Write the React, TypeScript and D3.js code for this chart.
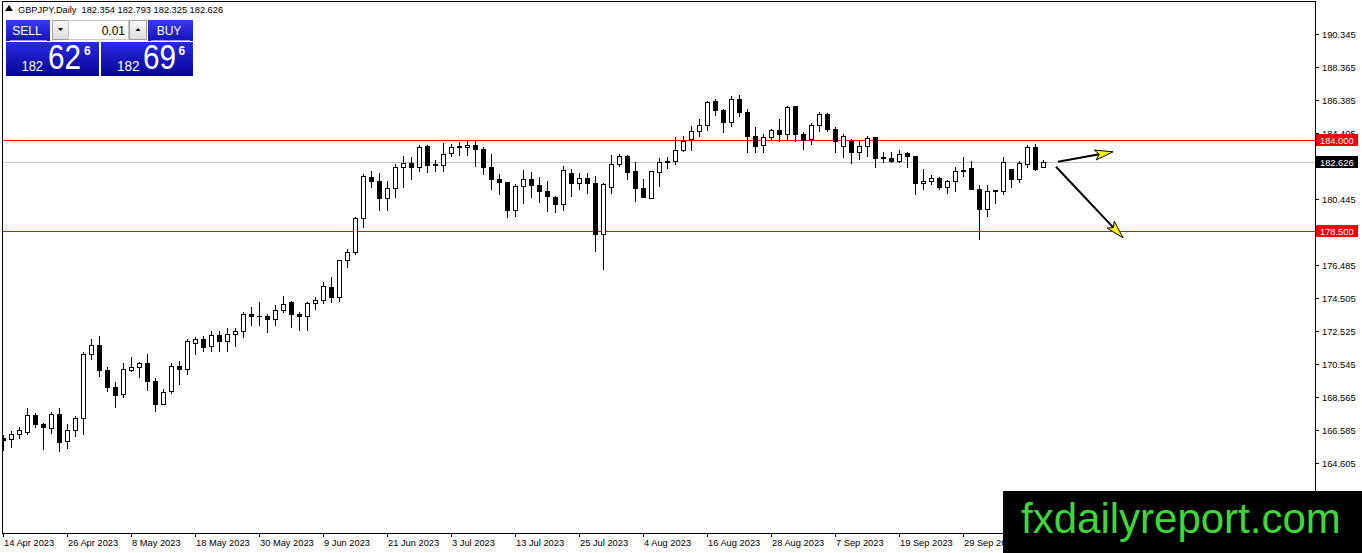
import React from 'react';
import * as d3 from 'd3';

// ---------- DATA ----------
const opens = [
  166.10, 166.03, 166.33, 166.48, 167.46, 166.93, 166.69, 167.53, 165.93, 166.57,
  167.29, 171.13, 171.69, 170.17, 169.17, 168.73, 170.19, 170.33, 170.57, 169.53,
  168.13, 168.93, 170.43, 170.23, 171.77, 172.03, 171.63, 172.27, 171.91, 172.31,
  172.51, 173.55, 173.43, 173.43, 173.23, 173.79, 174.27, 173.53, 173.43, 174.19,
  174.37, 175.17, 174.53, 176.79, 177.23, 179.29, 181.77, 181.53, 180.49, 181.09,
  182.37, 182.59, 182.37, 183.61, 182.53, 182.47, 183.17, 183.57, 183.57, 183.69,
  183.43, 182.37, 181.63, 181.43, 179.77, 181.23, 181.63, 181.29, 180.93, 180.57,
  180.13, 181.97, 181.39, 181.69, 181.39, 178.33, 181.17, 182.53, 183.03, 182.13,
  181.09, 180.49, 182.03, 182.63, 182.69, 183.37, 184.03, 184.53, 184.87, 186.33,
  185.79, 185.03, 186.43, 185.67, 184.23, 183.67, 184.13, 184.59, 184.33, 185.99,
  184.33, 184.03, 184.87, 185.53, 184.63, 183.63, 183.89, 183.23, 183.63, 184.13,
  182.97, 182.89, 182.69, 183.17, 183.03, 181.37, 181.49, 181.69, 181.13, 181.49,
  182.11, 182.29, 181.03, 179.83, 180.89, 180.93, 182.23, 181.63, 182.53, 183.53,
  182.354,
];
const highs = [
  166.30, 166.50, 166.76, 167.89, 167.60, 166.99, 167.68, 167.89, 166.93, 167.43,
  171.23, 172.03, 172.23, 170.33, 169.47, 170.57, 170.97, 170.63, 171.13, 169.69,
  169.03, 170.57, 170.73, 172.03, 172.17, 172.23, 172.53, 172.53, 172.67, 172.67,
  173.67, 173.93, 174.23, 173.53, 174.07, 174.63, 174.33, 173.67, 174.27, 174.53,
  175.47, 175.73, 176.79, 177.43, 179.35, 181.93, 182.09, 182.01, 181.53, 182.53,
  183.03, 182.97, 183.69, 183.65, 182.77, 183.77, 183.73, 183.83, 183.89, 183.89,
  183.53, 183.13, 181.93, 181.47, 181.33, 182.17, 182.03, 181.73, 181.53, 180.63,
  182.43, 182.23, 181.97, 181.97, 181.83, 181.37, 183.09, 183.13, 183.09, 182.63,
  181.63, 182.13, 182.89, 182.93, 184.17, 184.23, 184.83, 185.23, 186.33, 186.43,
  185.83, 186.59, 186.67, 185.83, 184.73, 184.33, 184.63, 185.23, 185.99, 186.03,
  184.43, 184.99, 185.67, 185.57, 184.73, 184.33, 184.03, 183.89, 184.23, 184.13,
  183.23, 183.23, 183.37, 183.23, 183.03, 182.23, 181.89, 181.73, 181.57, 182.37,
  182.97, 182.73, 181.29, 181.29, 180.97, 182.93, 182.23, 182.73, 183.69, 183.73,
  182.793,
];
const lows = [
  165.40, 165.56, 166.09, 166.36, 166.73, 165.42, 166.42, 165.30, 165.52, 166.22,
  166.36, 170.83, 169.83, 168.93, 167.93, 168.57, 170.09, 169.73, 168.97, 167.73,
  168.13, 168.77, 169.33, 169.93, 171.13, 171.33, 171.33, 171.33, 171.33, 171.63,
  172.13, 172.87, 172.87, 172.43, 172.87, 173.63, 172.73, 172.59, 172.59, 173.83,
  174.19, 174.23, 174.33, 176.33, 177.15, 178.73, 181.13, 179.79, 179.79, 180.53,
  181.13, 181.63, 182.09, 182.03, 182.09, 182.09, 183.03, 183.09, 183.09, 182.43,
  181.93, 181.03, 180.73, 179.37, 179.43, 180.17, 180.53, 180.23, 179.73, 179.63,
  179.77, 180.63, 181.03, 180.77, 177.29, 176.23, 180.77, 182.43, 181.63, 180.33,
  180.53, 180.49, 181.23, 182.29, 182.53, 183.29, 183.39, 184.23, 184.59, 185.47,
  184.43, 184.79, 185.43, 183.23, 183.23, 183.23, 184.03, 183.93, 184.03, 183.93,
  183.43, 183.73, 184.53, 184.53, 183.23, 182.93, 182.57, 182.83, 183.03, 182.37,
  182.63, 182.63, 182.63, 182.33, 180.73, 181.03, 181.33, 181.03, 180.77, 180.93,
  181.83, 181.03, 178.03, 179.43, 180.17, 180.73, 181.17, 181.43, 182.37, 182.17,
  182.325,
];
const closes = [
  166.00, 166.33, 166.57, 167.46, 166.96, 166.73, 167.53, 165.88, 166.57, 167.29,
  171.13, 171.69, 170.17, 169.13, 168.69, 170.23, 170.37, 170.57, 169.49, 168.13,
  168.87, 170.43, 170.23, 171.89, 172.03, 171.53, 172.27, 171.91, 172.33, 172.51,
  173.53, 173.39, 173.41, 173.23, 173.79, 174.13, 173.51, 173.39, 174.19, 174.39,
  175.23, 174.53, 176.79, 177.27, 179.29, 181.83, 181.49, 180.49, 181.09, 182.37,
  182.59, 182.37, 183.57, 182.45, 182.47, 183.13, 183.57, 183.60, 183.69, 183.43,
  182.37, 181.63, 181.43, 179.77, 181.23, 181.63, 181.27, 180.89, 180.61, 180.13,
  182.17, 181.37, 181.69, 181.37, 178.33, 181.33, 182.53, 183.03, 182.03, 181.09,
  180.57, 182.09, 182.67, 182.73, 183.37, 183.93, 184.53, 184.87, 186.27, 185.79,
  185.03, 186.43, 185.63, 184.23, 183.63, 184.13, 184.57, 184.33, 185.93, 184.33,
  183.99, 184.87, 185.53, 184.63, 183.89, 184.23, 183.23, 183.63, 184.09, 182.89,
  182.89, 182.69, 183.13, 183.01, 181.37, 181.53, 181.69, 181.13, 181.53, 182.13,
  182.15, 181.03, 179.83, 180.89, 180.97, 182.63, 181.63, 182.57, 183.53, 182.23,
  182.626,
];
const dateLabels = [
  '14 Apr 2023', '26 Apr 2023', '8 May 2023', '18 May 2023', '30 May 2023', '9 Jun 2023',
  '21 Jun 2023', '3 Jul 2023', '13 Jul 2023', '25 Jul 2023', '4 Aug 2023', '16 Aug 2023',
  '28 Aug 2023', '7 Sep 2023', '19 Sep 2023', '29 Sep 2023',
];
const barsPerDateLabel = 8;
const priceTicks = [
  164.605, 166.585, 168.565, 170.545, 172.525, 174.505, 176.485,
  180.445, 184.405, 186.385, 188.365, 190.345,
];
const priceDomain = [160.345, 192.325];
const levelLines = [184.0, 178.5];
const bidPrice = 182.626;
const askPrice = 182.696;
// arrows: [index, price]
const arrowStarts = [[131.875, 182.665], [131.625, 182.365]];
const arrowEnds = [[138.75, 183.265], [140.0, 178.105]];

// ---------- LAYOUT ----------
const W = 1362;
const H = 553;
const PL = 2;
const PR = 1315;
const PT = 1;
const PB = 533;
const FONT = 'Liberation Sans, Arial, sans-serif';

export default function App() {
  const n = closes.length;
  const x = d3.scaleLinear().domain([0, n - 1]).range([3, 3 + 8 * (n - 1)]);
  const y = d3.scaleLinear().domain(priceDomain).range([PB + 0.8, 0.8]);
  const fmt = d3.format('.3f');
  const cx = (i: number) => Math.round(x(i));
  const cy = (p: number) => Math.round(y(p));

  const candles = d3.range(n).map((i) => {
    const o = opens[i], c = closes[i], h = highs[i], l = lows[i];
    const X = cx(i);
    const top = cy(Math.max(o, c));
    const bot = cy(Math.min(o, c));
    const bull = c >= o;
    return (
      <g key={i}>
        <line x1={X + 0.5} x2={X + 0.5} y1={cy(h)} y2={cy(l) + 1} stroke="#000" strokeWidth={1} />
        {bot - top < 1 ? (
          <line x1={X - 2} x2={X + 3} y1={top + 0.5} y2={top + 0.5} stroke="#000" strokeWidth={1} />
        ) : (
          <rect x={X - 1.5} y={top + 0.5} width={4} height={bot - top} fill={bull ? '#fff' : '#000'} stroke="#000" strokeWidth={1} />
        )}
      </g>
    );
  });

  const arrows = arrowStarts.map((s, k) => {
    const e = arrowEnds[k];
    const sx = x(s[0]), sy = y(s[1]), ex = x(e[0]), ey = y(e[1]);
    const dx = ex - sx, dy = ey - sy;
    const len = Math.hypot(dx, dy);
    const ux = dx / len, uy = dy / len;
    const L = 18, w = 5;
    const bx = ex - L * ux, by = ey - L * uy;
    const nx = -uy, ny = ux;
    const pts = [
      [ex, ey],
      [bx + w * nx, by + w * ny],
      [bx + 4 * ux, by + 4 * uy],
      [bx - w * nx, by - w * ny],
    ];
    return (
      <g key={k}>
        <line x1={sx} y1={sy} x2={bx + 4 * ux} y2={by + 4 * uy} stroke="#000" strokeWidth={2} />
        <polygon points={pts.map((p) => p.join(',')).join(' ')} fill="#ffff00" stroke="#000" strokeWidth={1} strokeLinejoin="round" />
      </g>
    );
  });

  const last = n - 1;
  const headerText = `GBPJPY,Daily  ${fmt(opens[last])} ${fmt(highs[last])} ${fmt(lows[last])} ${fmt(closes[last])}`;

  const splitPrice = (p: number) => {
    const s = fmt(p);
    const [a, b] = s.split('.');
    return [a, b.slice(0, 2), b.slice(2)];
  };
  const bidParts = splitPrice(bidPrice);
  const askParts = splitPrice(askPrice);

  const axisBox = (p: number, fill: string, key: string) => {
    const Y = cy(p);
    return (
      <g key={key}>
        <rect x={1316} y={Y - 6} width={42} height={12} fill={fill} />
        <text x={1320} y={Y + 3.5} fontSize={9.3} fill="#fff" fontFamily={FONT}>{fmt(p)}</text>
      </g>
    );
  };

  return (
    <svg width={W} height={H} style={{ position: 'absolute', left: 0, top: 0, display: 'block', background: '#fff' }}>
      <defs>
        <clipPath id="plot">
          <rect x={PL + 1} y={PT + 1} width={PR - PL - 1} height={PB - PT - 1} />
        </clipPath>
        <linearGradient id="btn" x1="0" y1="0" x2="0" y2="1">
          <stop offset="0" stopColor="#3a3af5" />
          <stop offset="1" stopColor="#1212b8" />
        </linearGradient>
        <linearGradient id="big" x1="0" y1="0" x2="0" y2="1">
          <stop offset="0" stopColor="#2a2ae6" />
          <stop offset="1" stopColor="#050590" />
        </linearGradient>
        <linearGradient id="gbtn" x1="0" y1="0" x2="0" y2="1">
          <stop offset="0" stopColor="#fafafa" />
          <stop offset="1" stopColor="#dcdcdc" />
        </linearGradient>
      </defs>
      <rect x={0} y={0} width={W} height={H} fill="#fff" />

      <g clipPath="url(#plot)">
        <line x1={PL} x2={PR} y1={cy(bidPrice) + 0.5} y2={cy(bidPrice) + 0.5} stroke="#c0c0c0" strokeWidth={1} />
        {levelLines.map((p, i) => (
          <line key={i} x1={PL} x2={PR} y1={cy(p) + 0.5} y2={cy(p) + 0.5} stroke="#ff0000" strokeWidth={1} />
        ))}
        {candles}
        {arrows}
      </g>

      <rect x={PL + 0.5} y={PT + 0.5} width={PR - PL} height={PB - PT} fill="none" stroke="#000" strokeWidth={1} />

      {/* right axis */}
      {priceTicks.map((p, i) => {
        const Y = cy(p);
        return (
          <g key={i}>
            <line x1={PR} x2={PR + 4} y1={Y + 0.5} y2={Y + 0.5} stroke="#000" />
            <text x={1322} y={Y + 4} fontSize={9.3} fill="#000" fontFamily={FONT}>{fmt(p)}</text>
          </g>
        );
      })}
      {axisBox(levelLines[0], '#f00000', 'l0')}
      {axisBox(bidPrice, '#000', 'bid')}
      {axisBox(levelLines[1], '#f00000', 'l1')}

      {/* bottom axis */}
      {dateLabels.map((d, k) => {
        const X = cx(k * barsPerDateLabel);
        return (
          <g key={k}>
            <line x1={X + 0.5} x2={X + 0.5} y1={PB} y2={PB + 4} stroke="#000" />
            <text x={X + 1} y={545.5} fontSize={9.3} fill="#000" fontFamily={FONT}>{d}</text>
          </g>
        );
      })}

      {/* header */}
      <polygon points="5,11 9,5 13,11" fill="#000" />
      <text x={18} y={13} fontSize={9.25} fill="#000" fontFamily={FONT} style={{ whiteSpace: 'pre' }}>{headerText}</text>

      {/* one-click trading panel */}
      <g fontFamily={FONT}>
        <rect x={6} y={20} width={44} height={21} fill="url(#btn)" />
        <line x1={10} x2={47} y1={40.5} y2={40.5} stroke="#9a9ae8" />
        <text x={27} y={35} fontSize={12} fill="#fff" textAnchor="middle">SELL</text>
        <rect x={52.5} y={20.5} width={16} height={19} fill="url(#gbtn)" stroke="#a0a0a0" />
        <polygon points="58,28 63,28 60.5,31" fill="#000" />
        <rect x={68.5} y={20.5} width={60} height={19} fill="#fff" stroke="#c8c8c8" />
        <text x={125} y={34.5} fontSize={12} fill="#000" textAnchor="end">0.01</text>
        <rect x={129.5} y={20.5} width={17} height={19} fill="url(#gbtn)" stroke="#a0a0a0" />
        <polygon points="135.5,31 140.5,31 138,28" fill="#000" />
        <rect x={148} y={20} width={45} height={21} fill="url(#btn)" />
        <line x1={151} x2={190} y1={40.5} y2={40.5} stroke="#9a9ae8" />
        <text x={169} y={35} fontSize={12} fill="#fff" textAnchor="middle">BUY</text>

        <rect x={6} y={42} width={93} height={34} fill="url(#big)" />
        <text x={21.5} y={70.5} fontSize={14} fill="#fff" textLength={21.5} lengthAdjust="spacingAndGlyphs">{bidParts[0]}</text>
        <text x={48} y={68.5} fontSize={35} fill="#fff" textLength={33} lengthAdjust="spacingAndGlyphs">{bidParts[1]}</text>
        <text x={84} y={55} fontSize={12} fontWeight="bold" fill="#fff">{bidParts[2]}</text>

        <rect x={101} y={42} width={92} height={34} fill="url(#big)" />
        <text x={117} y={70.5} fontSize={14} fill="#fff" textLength={22.5} lengthAdjust="spacingAndGlyphs">{askParts[0]}</text>
        <text x={143} y={68.5} fontSize={35} fill="#fff" textLength={33} lengthAdjust="spacingAndGlyphs">{askParts[1]}</text>
        <text x={178.5} y={55} fontSize={12} fontWeight="bold" fill="#fff">{askParts[2]}</text>
      </g>

      {/* watermark */}
      <rect x={1003} y={491} width={W - 1003} height={H - 491} fill="#000" />
      <text x={1021} y={533} fontSize={42} fill="#3fd63a" fontFamily={FONT}>fxdailyreport.com</text>
    </svg>
  );
}
